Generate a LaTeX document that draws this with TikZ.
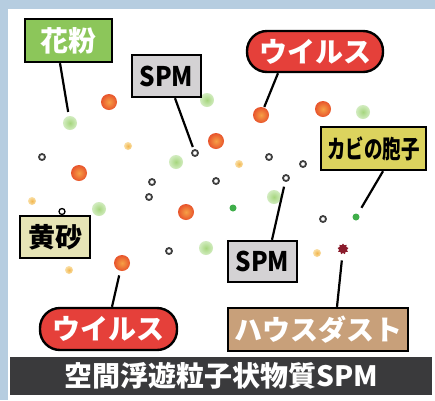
\documentclass[tikz,border=0pt]{standalone}
\usepackage{fontspec}
\setmainfont{Noto Sans CJK JP}
\usepackage{graphicx}
\usetikzlibrary{shapes.geometric}
\definecolor{frameblue}{HTML}{B6CDE0}
\definecolor{boxgreen}{HTML}{8CC65A}
\definecolor{boxgray}{HTML}{D4D2D4}
\definecolor{boxred}{HTML}{E5403A}
\definecolor{boxyellow}{HTML}{DCD35E}
\definecolor{boxbeige}{HTML}{E6E4B6}
\definecolor{boxtan}{HTML}{C8A07A}
\definecolor{barcol}{HTML}{3A3A3C}
\definecolor{orin}{HTML}{F6A046}
\definecolor{orout}{HTML}{E8542C}
\definecolor{grin}{HTML}{A6D67E}
\definecolor{grout}{HTML}{D2ECC0}
\definecolor{yein}{HTML}{F2B64E}
\definecolor{yeout}{HTML}{FAE0A8}
\definecolor{dkgreen}{HTML}{3FAE4A}
\definecolor{ringcol}{HTML}{404040}
\definecolor{dustred}{HTML}{8A1C2C}
\begin{document}
\begin{tikzpicture}[x=1pt,y=-1pt,
  lab/.style={draw=black, line width=2.4pt, inner sep=0pt, font=\bfseries\fontsize{28}{28}\selectfont},
  pill/.style={lab, rounded corners=20pt},
  conn/.style={line width=2.2pt, black},
  bigdot/.style={circle, inner sep=0pt, minimum size=16pt, inner color=orin, outer color=orout},
  greendot/.style={circle, inner sep=0pt, minimum size=14pt, inner color=grin, outer color=grout},
  yelldot/.style={circle, inner sep=0pt, minimum size=8pt, inner color=yein, outer color=yeout},
  smallgreen/.style={circle, inner sep=0pt, minimum size=7pt, fill=dkgreen},
  ringdot/.style={circle, inner sep=0pt, minimum size=6pt, draw=ringcol, line width=1.8pt, fill=white},
  dustdot/.style={star, star points=9, star point ratio=1.4, inner sep=0pt, minimum size=11pt, fill=dustred}
]
\useasboundingbox (0,0) rectangle (435,400);
\fill[frameblue] (0,0) rectangle (435,400);
\fill[white] (8,9) rectangle (435,400);

% particles
\node[bigdot] (o1) at (109,102) {};
\node[bigdot] (o2) at (79,173) {};
\node[bigdot] (o3) at (216,141) {};
\node[bigdot] (ov1) at (261,115) {};
\node[bigdot] (o5) at (323,109) {};
\node[bigdot] (o6) at (186,212) {};
\node[bigdot] (ov2) at (122,263) {};

\node[greendot] (gk) at (70,123) {};
\node[greendot] (g2) at (207,100) {};
\node[greendot] (g3) at (176,162) {};
\node[greendot] (g4) at (363,112) {};
\node[greendot] (g5) at (99,209) {};
\node[greendot] (g6) at (206,248) {};
\node[greendot] (g7) at (274,197) {};

\node[smallgreen] (s1) at (233,208) {};
\node[smallgreen] (sk) at (356,217) {};

\node[yelldot] (y1) at (128,146) {};
\node[yelldot] (y2) at (239,164) {};
\node[yelldot] (y3) at (32,201) {};
\node[yelldot] (y4) at (69,270) {};
\node[yelldot] (y5) at (317,253) {};

\node[ringdot] (r1) at (42,157) {};
\node[ringdot] (rs1) at (195,153) {};
\node[ringdot] (r3) at (152,182) {};
\node[ringdot] (r4) at (149,197) {};
\node[ringdot] (r5) at (216,181) {};
\node[ringdot] (r6) at (269,157) {};
\node[ringdot] (rs2) at (286,178) {};
\node[ringdot] (r8) at (303,164) {};
\node[ringdot] (r9) at (169,251) {};
\node[ringdot] (r10) at (323,219) {};

\node[dustdot] (dd) at (343,249) {};

% labels
\node[lab, fill=boxgreen, text=white, minimum width=87pt, minimum height=43pt] (kafun) at (68.5,40.5) {花粉};
\node[lab, fill=boxgray, text=black, minimum width=69pt, minimum height=42pt, font=\bfseries\fontsize{27}{27}\selectfont] (spm1) at (166.5,76) {\scalebox{0.9}[1]{SPM}};
\node[pill, fill=boxred, text=white, minimum width=136pt, minimum height=41pt] (virus1) at (315,51.5) {ウイルス};
\node[lab, fill=boxyellow, text=black, minimum width=105pt, minimum height=43pt, font=\bfseries\fontsize{25}{25}\selectfont] (kabi) at (373.5,148.5) {\scalebox{0.74}[1]{カビの胞子}};
\node[lab, fill=boxbeige, text=black, minimum width=70pt, minimum height=42pt, font=\bfseries\fontsize{27}{27}\selectfont] (kosa) at (55,237) {黄砂};
\node[circle, draw=black, line width=1.3pt, inner sep=0pt, minimum size=6pt] (hook) at (62,211.5) {};
\node[lab, fill=boxgray, text=black, minimum width=69pt, minimum height=41pt, font=\bfseries\fontsize{27}{27}\selectfont] (spm2) at (262.5,261.5) {\scalebox{0.9}[1]{SPM}};
\node[pill, fill=boxred, text=white, minimum width=137pt, minimum height=42pt] (virus2) at (108.5,329) {ウイルス};
\node[lab, fill=boxtan, text=white, minimum width=180pt, minimum height=43pt] (house) at (318,329.5) {ハウスダスト};
\node[fill=barcol, text=white, inner sep=0pt, minimum width=422pt, minimum height=38pt, font=\bfseries\fontsize{28}{28}\selectfont] (bar) at (221,376) {空間浮遊粒子状物質SPM};

% connectors
\draw[conn, shorten >=4pt] ([xshift=-8.5pt]kafun.south) -- (gk);
\draw[conn, shorten >=2.5pt] ([xshift=8.5pt]spm1.south) -- (rs1);
\draw[conn, shorten >=0.5pt] ([xshift=-37pt]virus1.south) -- (ov1);
\draw[conn, shorten >=7pt] ([xshift=9.5pt]kabi.south) -- (sk);
\draw[conn, shorten >=5pt] ([xshift=9.5pt]spm2.north) -- (rs2);
\draw[conn, shorten >=7pt] ([xshift=19pt]house.north) -- (dd);
\draw[conn, shorten >=4.5pt] ([xshift=3.5pt]virus2.north) -- (ov2);
\end{tikzpicture}
\end{document}
